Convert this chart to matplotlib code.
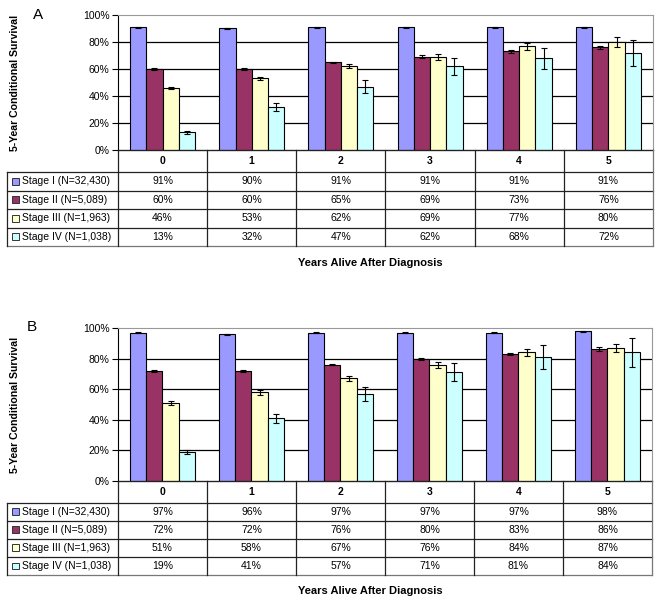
import numpy as np
import matplotlib
matplotlib.use("Agg")
import matplotlib.pyplot as plt
from matplotlib.patches import Rectangle

plt.rcParams['font.family'] = ['Liberation Sans', 'DejaVu Sans']

# data
years = ['0', '1', '2', '3', '4', '5']
stages = ['Stage I (N=32,430)', 'Stage II (N=5,089)',
          'Stage III (N=1,963)', 'Stage IV (N=1,038)']
colors = ['#9999FF', '#993366', '#FFFFCC', '#CCFFFF']

surv_a = [[91, 90, 91, 91, 91, 91],
          [60, 60, 65, 69, 73, 76],
          [46, 53, 62, 69, 77, 80],
          [13, 32, 47, 62, 68, 72]]
err_a = [[0.3, 0.3, 0.3, 0.3, 0.3, 0.3],
         [0.7, 0.5, 0.5, 1.1, 0.9, 1.1],
         [0.8, 1.2, 1.4, 2.2, 2.6, 3.5],
         [0.8, 2.8, 5.0, 6.3, 7.8, 9.5]]

surv_b = [[97, 96, 97, 97, 97, 98],
          [72, 72, 76, 80, 83, 86],
          [51, 58, 67, 76, 84, 87],
          [19, 41, 57, 71, 81, 84]]
err_b = [[0.3, 0.3, 0.3, 0.3, 0.3, 0.3],
         [0.5, 0.5, 0.5, 0.7, 0.8, 1.3],
         [1.3, 1.5, 1.4, 2.1, 2.5, 2.6],
         [1.1, 2.8, 4.6, 5.9, 7.9, 9.6]]

W, H = 662, 604
fig = plt.figure(figsize=(W / 100, H / 100), dpi=100)


def rect(x0, y0, x1, y1):
    # pixel box -> figure fraction
    return [x0 / W, 1 - y1 / H, (x1 - x0) / W, (y1 - y0) / H]


def panel(letter, surv, err, px_left, px_right, px_top, px_zero, px_tbot, px_xlab):
    ax = fig.add_axes(rect(px_left, px_top, px_right, px_zero))
    n = len(years)
    x = np.arange(n)
    bw = 0.182
    for i in range(len(stages)):
        ax.bar(x + (i - 1.5) * bw, surv[i], bw, color=colors[i],
               edgecolor='black', linewidth=0.8, zorder=3)
        ax.errorbar(x + (i - 1.5) * bw, surv[i], yerr=err[i], fmt='none',
                    ecolor='black', elinewidth=0.8, capsize=2.2, capthick=0.8, zorder=4)
    ax.set_xlim(-0.5, n - 0.5)
    ax.set_ylim(0, 100)
    ax.set_yticks(range(0, 101, 20))
    ax.set_yticklabels([f'{v}%' for v in range(0, 101, 20)], fontsize=7.5)
    ax.set_xticks([])
    ax.tick_params(axis='y', length=4, width=0.8, pad=2)
    for v in range(20, 100, 20):
        ax.axhline(v, color='black', lw=0.9, zorder=1)
    ax.spines['left'].set_color('black')
    ax.spines['bottom'].set_color('black')
    ax.spines['top'].set_color('#999999')
    ax.spines['right'].set_color('#999999')

    # table below the bars
    px_col = (px_right - px_left) / n
    tx0 = 7
    tax = fig.add_axes(rect(tx0, px_zero, px_right, px_tbot))
    xl = -0.5 - (px_left - tx0) / px_col
    tax.set_xlim(xl, n - 0.5)
    hdr = 1.2
    nrow = len(stages)
    tax.set_ylim(hdr + nrow, 0)
    tax.axis('off')
    lc = '#222222'
    # horizontal lines
    tax.plot([-0.5, n - 0.5], [0, 0], color=lc, lw=0.9, clip_on=False)
    for r in range(nrow + 1):
        yy = hdr + r
        tax.plot([xl, n - 0.5], [yy, yy], color=lc if r < nrow else '#777777', lw=0.9, clip_on=False)
    # vertical lines
    tax.plot([xl, xl], [hdr, hdr + nrow], color=lc, lw=0.9, clip_on=False)
    for c in range(n + 1):
        xx = -0.5 + c
        tax.plot([xx, xx], [0, hdr + nrow], color=lc if c < n else '#777777', lw=0.9, clip_on=False)
    for c in range(n):
        tax.text(c, hdr / 2, years[c], ha='center', va='center', fontsize=7.5, fontweight='bold')
    sq = 7 / px_col
    for r in range(nrow):
        yy = hdr + r + 0.5
        tax.add_patch(Rectangle((xl + 5 / px_col, yy - 0.19), sq, 0.38,
                                facecolor=colors[r], edgecolor='#333333', lw=0.7, clip_on=False))
        tax.text(xl + 15 / px_col, yy, stages[r], ha='left', va='center', fontsize=7.5)
        for c in range(n):
            tax.text(c, yy, f'{surv[r][c]}%', ha='center', va='center', fontsize=7.5)

    fig.text(370 / W, 1 - px_xlab / H, 'Years Alive After Diagnosis',
             ha='center', va='center', fontsize=8, fontweight='bold')
    fig.text(15 / W, 1 - (px_top + px_zero) / 2 / H, '5-Year Conditional Survival',
             ha='center', va='center', rotation=90, fontsize=7.6, fontweight='bold')
    return ax


panel('A', surv_a, err_a, 118, 653, 15, 150, 246, 263)
panel('B', surv_b, err_b, 118, 652, 328, 481, 575, 591)
fig.text(38 / W, 1 - 15 / H, 'A', ha='center', va='center', fontsize=11)
fig.text(32 / W, 1 - 327 / H, 'B', ha='center', va='center', fontsize=11)

fig.savefig('out.png', dpi=100)
